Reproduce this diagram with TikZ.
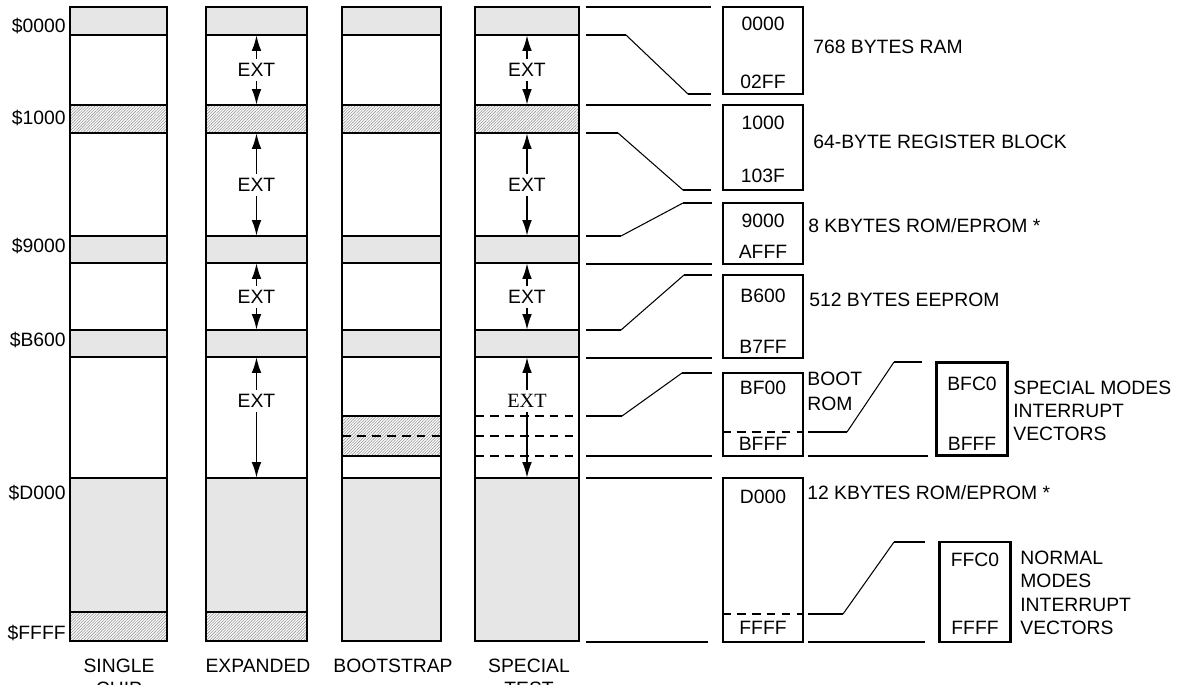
\documentclass[tikz,border=0pt]{standalone}
\usepackage{fontspec}
\setmainfont{Liberation Sans}
\newfontfamily\extserif{Liberation Serif}
\usepackage{tikz}
\usetikzlibrary{positioning,arrows.meta,patterns.meta}
\definecolor{mapgray}{RGB}{230,230,230}
\definecolor{hatchgray}{RGB}{150,150,150}

\begin{document}
\begin{tikzpicture}[
    x=0.02cm, y=-0.02cm,
    font=\fontsize{11}{13.3}\selectfont,
    rom/.style={draw, line width=1.4pt, fill=mapgray},
    regs/.style={draw, line width=1.4pt,
                 pattern={Lines[angle=45, distance=1.15pt, line width=0.35pt]}, pattern color=hatchgray},
    column/.style={draw, line width=1.4pt},
    cut/.style={line width=1.1pt, dash pattern=on 5pt off 3.5pt},
    ext/.style={inner sep=2.5pt},
    extarrow/.style={-{Latex[length=9pt, width=5.5pt]}, line width=1.1pt},
    lead/.style={line width=1.1pt},
    slant/.style={line width=0.6pt},
    mapbox/.style={draw, line width=1.3pt, inner sep=0pt, minimum width=1.6cm},
    vecbox/.style={draw, line width=1.3pt, inner sep=0pt, minimum width=1.42cm},
    addr/.style={inner sep=0pt, anchor=base},
    note/.style={inner sep=0pt, anchor=base west},
    multinote/.style={inner sep=0pt, anchor=north west, align=left},
    colname/.style={inner sep=0pt, anchor=north, align=center}
]
    \useasboundingbox (0,0) rectangle (1179,684);

    % single chip
    \draw[rom]  (70,7)   rectangle (167,35);
    \draw[regs] (70,105) rectangle (167,133);
    \draw[rom]  (70,236) rectangle (167,263);
    \draw[rom]  (70,330) rectangle (167,357);
    \draw[rom]  (70,478) rectangle (167,612);
    \draw[regs] (70,612) rectangle (167,641);
    \draw[column] (70,7) rectangle (167,641);

    % expanded
    \draw[rom]  (206,7)   rectangle (307,35);
    \draw[regs] (206,105) rectangle (307,133);
    \draw[rom]  (206,236) rectangle (307,263);
    \draw[rom]  (206,330) rectangle (307,357);
    \draw[rom]  (206,478) rectangle (307,612);
    \draw[regs] (206,612) rectangle (307,641);
    \draw[column] (206,7) rectangle (307,641);

    % bootstrap
    \draw[rom]  (342,7)   rectangle (441,35);
    \draw[regs] (342,105) rectangle (441,133);
    \draw[rom]  (342,236) rectangle (441,263);
    \draw[rom]  (342,330) rectangle (441,357);
    \draw[regs] (342,416) rectangle (441,456);
    \draw[cut]  (342,436) -- (441,436);
    \draw[rom]  (342,478) rectangle (441,641);
    \draw[column] (342,7) rectangle (441,641);

    % special test
    \draw[rom]  (475,7)   rectangle (579,35);
    \draw[regs] (475,105) rectangle (579,133);
    \draw[rom]  (475,236) rectangle (579,263);
    \draw[rom]  (475,330) rectangle (579,357);
    \draw[cut]  (475,416) -- (579,416);
    \draw[cut]  (475,436) -- (579,436);
    \draw[cut]  (475,456) -- (579,456);
    \draw[rom]  (475,478) rectangle (579,641);
    \draw[column] (475,7) rectangle (579,641);

    % external space
    \node[ext] (exta) at (256.5,70)  {EXT};
    \node[ext] (extb) at (256.5,185) {EXT};
    \node[ext] (extc) at (256.5,297) {EXT};
    \node[ext] (extd) at (256.5,401) {EXT};
    \draw[extarrow] (exta.north) -- (256.5,35);
    \draw[extarrow] (exta.south) -- (256.5,105);
    \draw[extarrow] (extb.north) -- (256.5,133);
    \draw[extarrow] (extb.south) -- (256.5,236);
    \draw[extarrow] (extc.north) -- (256.5,263);
    \draw[extarrow] (extc.south) -- (256.5,330);
    \draw[extarrow] (extd.north) -- (256.5,357);
    \draw[extarrow] (extd.south) -- (256.5,478);

    \node[ext] (testa) at (527,70)  {EXT};
    \node[ext] (testb) at (527,185) {EXT};
    \node[ext] (testc) at (527,297) {EXT};
    \node[ext, font={\extserif\fontsize{11.5}{13}\selectfont}] (testd) at (527,401) {EXT};
    \draw[extarrow] (testa.north) -- (527,35);
    \draw[extarrow] (testa.south) -- (527,105);
    \draw[extarrow] (testb.north) -- (527,133);
    \draw[extarrow] (testb.south) -- (527,236);
    \draw[extarrow] (testc.north) -- (527,263);
    \draw[extarrow] (testc.south) -- (527,330);
    \draw[extarrow] (testd.north) -- (527,357);
    \draw[extarrow] (testd.south) -- (527,478);

    % addresses
    \node[addr, anchor=base east] (adr0000) at (66,32.6)  {\$0000};
    \node[addr, anchor=base east] (adr1000) at (66,124)   {\$1000};
    \node[addr, anchor=base east] (adr9000) at (66,252.6) {\$9000};
    \node[addr, anchor=base east] (adrB600) at (66,346.6) {\$B600};
    \node[addr, anchor=base east] (adrD000) at (66,499.6) {\$D000};
    \node[addr, anchor=base east] (adrFFFF) at (66,639.6) {\$FFFF};

    \node[colname] (single)   at (119,658.4) {SINGLE\\CHIP};
    \node[colname] (expanded) at (258,658.4) {EXPANDED};
    \node[colname] (boot)     at (393,658.4) {BOOTSTRAP};
    \node[colname] (test)     at (529,658.4) {SPECIAL\\TEST};

    % blow-ups
    \draw[lead] (586,7) -- (711,7);
    \draw[lead] (586,35) -- (626,35) (688,94) -- (711,94);
    \draw[slant] (626,35) -- (688,94);
    \draw[lead] (586,105) -- (711,105);
    \draw[lead] (586,133) -- (618,133) (683,190) -- (711,190);
    \draw[slant] (618,133) -- (683,190);
    \draw[lead] (586,236) -- (621,236) (683,203) -- (712,203);
    \draw[slant] (621,236) -- (683,203);
    \draw[lead] (586,264) -- (712,264);
    \draw[lead] (586,330) -- (621,330) (684,275) -- (712,275);
    \draw[slant] (621,330) -- (684,275);
    \draw[lead] (586,358) -- (712,358);
    \draw[lead] (586,416) -- (622,416) (682,373) -- (712,373);
    \draw[slant] (622,416) -- (682,373);
    \draw[lead] (586,456) -- (712,456);
    \draw[lead] (586,478) -- (712,478);
    \draw[lead] (586,642) -- (708,642);

    \node[mapbox, minimum height=1.74cm] (ram) at (763,50.5) {};
    \node[addr] (ramlo) at (763,30.6) {0000};
    \node[addr] (ramhi) at (763,88.6) {02FF};
    \node[note] (ramtxt) at (813,53.6) {768 BYTES RAM};

    \node[mapbox, minimum height=1.7cm] (regblk) at (763,147.5) {};
    \node[addr] (regblklo) at (763,129.6) {1000};
    \node[addr] (regblkhi) at (763,182.6) {103F};
    \node[note] (regblktxt) at (813,148.6) {64-BYTE REGISTER BLOCK};

    \node[mapbox, minimum height=1.22cm] (romlow) at (763,233.5) {};
    \node[addr] (romlowlo) at (763,227.6) {9000};
    \node[addr] (romlowhi) at (763,258.6) {AFFF};
    \node[note] (romlowtxt) at (808,232.6) {8 KBYTES ROM/EPROM *};

    \node[mapbox, minimum height=1.66cm] (eeprom) at (763,316.5) {};
    \node[addr] (eepromlo) at (763,302.6) {B600};
    \node[addr] (eepromhi) at (763,353.6) {B7FF};
    \node[note] (eepromtxt) at (809,306.6) {512 BYTES EEPROM};

    \node[mapbox, minimum height=1.66cm] (bootrom) at (763,414.5) {};
    \draw[cut] (bootrom.west |- 0,432) -- (bootrom.east |- 0,432);
    \node[addr] (bootromlo) at (763,394.6) {BF00};
    \node[addr] (bootromhi) at (763,450.6) {BFFF};
    \node[multinote, font=\fontsize{11}{14.2}\selectfont] (bootromtxt) at (807,371.4) {BOOT\\ROM};

    \node[mapbox, minimum height=3.28cm] (romhigh) at (763,560) {};
    \draw[cut] (romhigh.west |- 0,614) -- (romhigh.east |- 0,614);
    \node[addr] (romhighlo) at (763,503.6) {D000};
    \node[addr] (romhighhi) at (763,634.6) {FFFF};
    \node[note] (romhightxt) at (807,499.6) {12 KBYTES ROM/EPROM *};

    \draw[lead] (808,432) -- (847,432) (894,362) -- (922,362);
    \draw[slant] (847,432) -- (894,362);
    \draw[lead] (808,456) -- (928,456);
    \draw[lead] (808,614) -- (843,614) (894,542) -- (925,542);
    \draw[slant] (843,614) -- (894,542);
    \draw[lead] (808,642) -- (925,642);

    \node[vecbox, minimum height=1.86cm] (specvec) at (972,409) {};
    \node[addr] (specveclo) at (972,390.6) {BFC0};
    \node[addr] (specvechi) at (972,450.6) {BFFF};
    \node[multinote] (specvectxt) at (1013,380.4) {SPECIAL MODES\\INTERRUPT\\VECTORS};

    \node[vecbox, minimum height=2cm] (normvec) at (975,592) {};
    \node[addr] (normveclo) at (975,566.6) {FFC0};
    \node[addr] (normvechi) at (975,634.6) {FFFF};
    \node[multinote, font=\fontsize{11}{13.4}\selectfont] (normvectxt) at (1020,550.4) {NORMAL\\MODES\\INTERRUPT\\VECTORS};
\end{tikzpicture}
\end{document}
